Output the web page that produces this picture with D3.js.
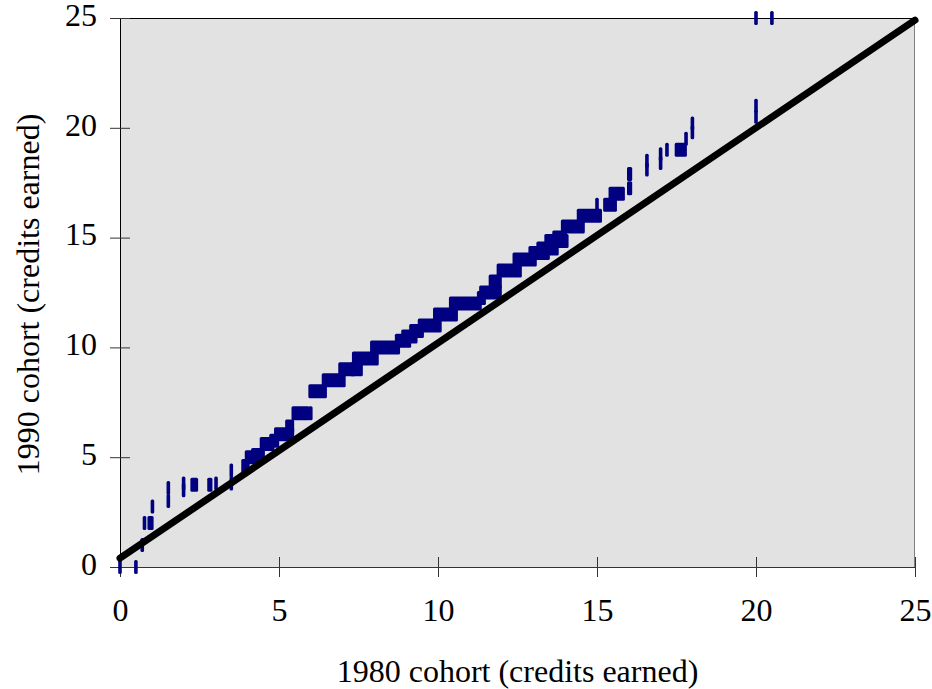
<!DOCTYPE html>
<html>
<head>
<meta charset="utf-8">
<script src="https://cdn.jsdelivr.net/npm/d3@7"></script>
<style>
  html, body { margin: 0; padding: 0; background: #ffffff; }
  svg { display: block; }
  text { font-family: "Liberation Serif", "Times New Roman", serif; fill: #000; }
</style>
</head>
<body>
<svg id="chart" width="932" height="689"></svg>
<script>
// Runs of coincident dash markers: each run spans runXStart..runXEnd at runY
const runXStart = [0, 0.5, 0.7, 0.77, 0.92, 1.02, 1.52, 1.52, 2.0, 2.0, 2.27, 2.8, 3.02, 3.5, 3.5,
  3.87, 3.98, 4.18, 4.45, 4.75, 4.9, 5.25, 5.45, 5.98, 5.98, 6.4, 6.92, 7.3, 7.35, 7.92, 8.7, 8.9, 9.15, 9.42,
  9.9, 10.4, 11.28, 11.35, 11.65, 11.9, 12.4, 12.9, 13.15, 13.4, 13.65, 13.92, 14.42, 15.0, 15.25, 15.42,
  16.0, 16.0, 16.57, 16.57, 17.0, 17.0, 17.2, 17.5, 17.8, 18.0, 18.0, 20.0, 20.0, 20.0, 20.5];
const runXEnd = [0, 0.5, 0.7, 0.77, 1.0, 1.02, 1.52, 1.52, 2.0, 2.0, 2.4, 2.85, 3.02, 3.5, 3.5,
  4.02, 4.22, 4.5, 4.8, 4.95, 5.42, 5.42, 5.9, 6.0, 6.45, 7.04, 7.35, 7.58, 8.08, 8.75, 9.1, 9.3, 9.5, 10.06,
  10.57, 11.32, 11.45, 11.95, 11.95, 12.58, 13.05, 13.46, 13.74, 14.05, 14.0, 14.56, 15.1, 15.0, 15.57, 15.82,
  16.05, 16.05, 16.57, 16.57, 17.0, 17.0, 17.2, 17.77, 17.8, 18.0, 18.0, 20.0, 20.0, 20.0, 20.5];
const runY = [0, 0, 1.0, 2.0, 2.0, 2.75, 3.0, 3.6, 3.5, 3.8, 3.75, 3.75, 3.8, 3.8, 4.4,
  4.6, 5.0, 5.1, 5.6, 5.75, 6.05, 6.4, 7.0, 7.0, 8.0, 8.5, 9.0, 9.0, 9.5, 10.0, 10.3, 10.5, 10.75, 11.0,
  11.5, 12.0, 12.25, 12.5, 13.0, 13.5, 14.0, 14.3, 14.5, 14.85, 15.0, 15.5, 16.0, 16.5, 16.5, 17.0,
  17.25, 17.9, 18.1, 18.5, 18.4, 18.8, 19.0, 19.0, 19.5, 19.8, 20.2, 20.5, 21.0, 25, 25];

// Reference line
const lineX = [0, 25];
const lineY = [0.4, 24.9];

const xTicks = [0, 5, 10, 15, 20, 25];
const yTicks = [0, 5, 10, 15, 20, 25];
const xTitle = "1980 cohort (credits earned)";
const yTitle = "1990 cohort (credits earned)";

const svg = d3.select("#chart");
const L = 120, R = 915, T = 18, B = 567;
const FS = 32;
const x = d3.scaleLinear().domain([0, 25]).range([L, R]);
const y = d3.scaleLinear().domain([0, 25]).range([B, T]);

// plot background
svg.append("rect").attr("x", L).attr("y", T).attr("width", R - L).attr("height", B - T)
  .attr("fill", "#e2e2e2");
// top and right border
svg.append("line").attr("x1", L).attr("x2", R).attr("y1", T + 0.5).attr("y2", T + 0.5)
  .attr("stroke", "#000").attr("stroke-width", 1);
svg.append("line").attr("x1", R - 0.5).attr("x2", R - 0.5).attr("y1", T).attr("y2", B)
  .attr("stroke", "#808080").attr("stroke-width", 1);

// axes
const xAxis = d3.axisBottom(x).tickValues(xTicks).tickSizeInner(10).tickSizeOuter(0).tickFormat(d3.format("d"));
const yAxis = d3.axisLeft(y).tickValues(yTicks).tickSizeInner(10).tickSizeOuter(0).tickFormat(d3.format("d"));

const gx = svg.append("g").attr("transform", `translate(0,${B})`).call(xAxis);
gx.select(".domain").attr("stroke", "#333");
gx.selectAll(".tick line").attr("y1", -10).attr("y2", 10).attr("stroke", "#333");
gx.selectAll(".tick text").attr("dy", null).attr("dominant-baseline", "middle").attr("y", 47)
  .attr("font-size", FS).attr("font-family", "Liberation Serif").attr("fill", "#000");

const gy = svg.append("g").attr("transform", `translate(${L},0)`).call(yAxis);
gy.select(".domain").attr("stroke", "#000");
gy.selectAll(".tick line").attr("x1", -10).attr("x2", 10).attr("stroke", "#333");
gy.selectAll(".tick text").attr("x", -23).attr("dy", null).attr("dominant-baseline", "middle")
  .attr("font-size", FS).attr("font-family", "Liberation Serif").attr("fill", "#000");

// data dashes (runs)
const runs = runY.map((v, i) => ({ x0: runXStart[i], x1: runXEnd[i], y: v }));
svg.append("g").selectAll("rect").data(runs).join("rect")
  .attr("x", d => x(d.x0) - 1.8)
  .attr("width", d => x(d.x1) - x(d.x0) + 3.6)
  .attr("y", d => y(d.y) - 7)
  .attr("height", 14)
  .attr("rx", 1.5)
  .attr("fill", "#000080");

// reference line
svg.append("path")
  .datum(lineX.map((v, i) => [v, lineY[i]]))
  .attr("d", d3.line().x(d => x(d[0])).y(d => y(d[1])))
  .attr("stroke", "#000").attr("stroke-width", 7).attr("stroke-linecap", "round").attr("fill", "none");

// titles
svg.append("text").attr("x", (L + R) / 2).attr("y", 682).attr("text-anchor", "middle")
  .attr("font-size", FS).text(xTitle);
svg.append("text").attr("transform", `translate(39,${(T + B) / 2 + 2}) rotate(-90)`)
  .attr("text-anchor", "middle").attr("font-size", FS).text(yTitle);
</script>
</body>
</html>
